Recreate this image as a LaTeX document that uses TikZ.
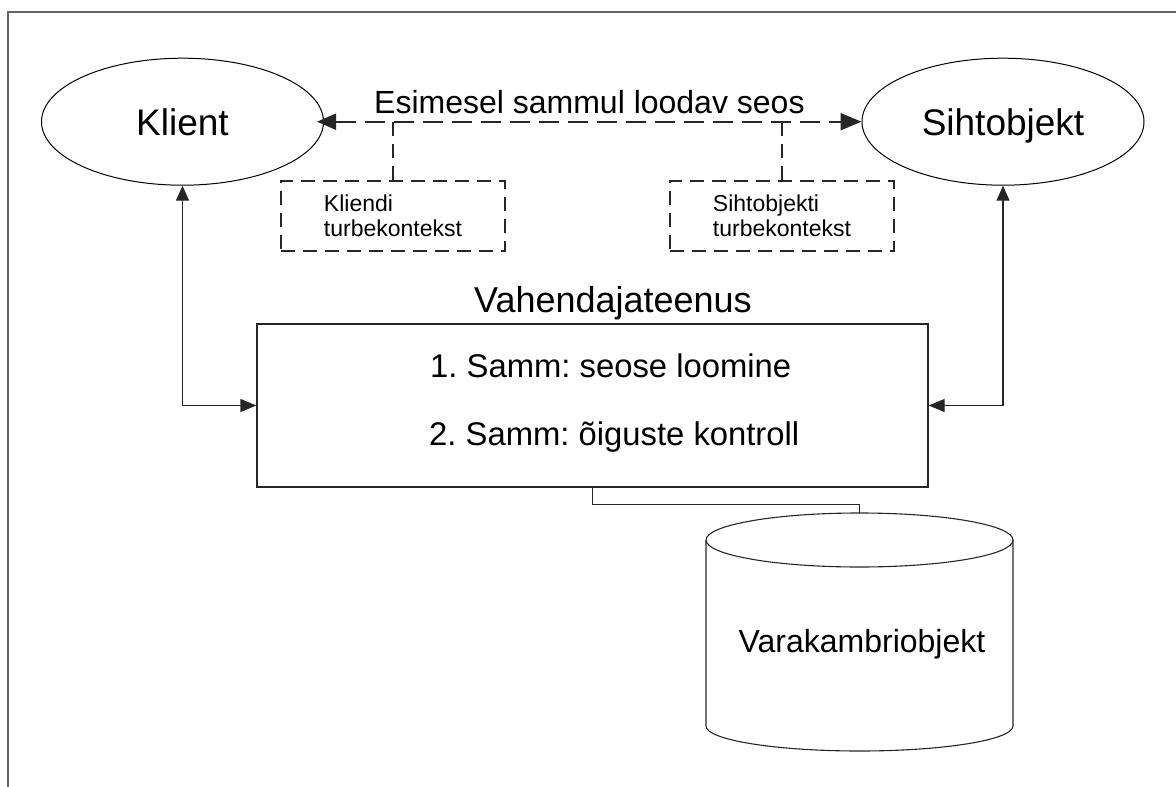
\documentclass[tikz,border=0pt]{standalone}
\usepackage{fontspec}
\setmainfont{Liberation Sans}
\usetikzlibrary{arrows.meta,shapes.geometric}
\frenchspacing

\begin{document}
\begin{tikzpicture}[x=1pt,y=-1pt,
  ent/.style={ellipse, draw, line width=1pt, minimum width=282pt, minimum height=127pt,
    inner sep=0pt, text depth=0pt, font=\fontsize{37}{44}\selectfont},
  ctx/.style={draw, dash pattern=on 14pt off 8pt, line width=1.4pt, draw=black!85,
    minimum width=224pt, minimum height=70pt, inner sep=0pt, align=left,
    font=\fontsize{23}{25}\selectfont},
  ctxline/.style={dash pattern=on 14pt off 8pt, line width=1.3pt, draw=black!85},
  mainbox/.style={draw, line width=1.3pt, draw=black!85, minimum width=671pt,
    minimum height=163pt, inner sep=0pt},
  big/.style={font=\fontsize{32}{38}\selectfont, inner sep=0pt},
  stepfont/.style={font=\fontsize{32.8}{38}\selectfont, inner sep=0pt},
  link/.style={line width=1.3pt, draw=black!85},
  cyl/.style={line width=1.1pt, draw=black!85}
]
\useasboundingbox (0,0) rectangle (1176,787);

% open frame: top and left edges
\draw[line width=2pt, black!60] (1176,12) -- (7.5,12) -- (7.5,787);

% parties
\node[ent] (client) at (182.5,121.7) {Klient};
\node[ent] (target) at (1003,121.7) {Sihtobjekt};

% first-step link between the parties
\draw[line width=2pt, draw=black!85, dash pattern=on 20pt off 9pt, shorten <=-7pt,
  {Triangle[length=19pt, width=16pt]}-{Triangle[length=21pt, width=17pt]}]
  (client.east) -- (target.west);
\node[big, anchor=base west] (linklbl) at (374,113) {Esimesel sammul loodav seos};

% security contexts
\node[ctx] (kctx) at (393,216) {Kliendi\\turbekontekst};
\node[ctx] (sctx) at (782,216) {Sihtobjekti\\turbekontekst};
\draw[ctxline] (kctx.north) -- (kctx.north |- client.east);
\draw[ctxline] (sctx.north) -- (sctx.north |- target.east);

% broker service
\node[mainbox] (broker) at (592.5,405.5) {};
\node[font=\fontsize{36}{43}\selectfont, inner sep=0pt, anchor=base] (brokerlbl) at (613,312) {Vahendajateenus};
\node[stepfont, anchor=base west] (step1) at (430,377) {1. Samm: seose loomine};
\node[stepfont, anchor=base west] (step2) at (429,445) {2. Samm: õiguste kontroll};

\draw[link, {Triangle[length=15pt, width=13pt]}-{Triangle[length=16pt, width=13pt]}]
  (client.south) |- (broker.west);
\draw[link, {Triangle[length=15pt, width=13pt]}-{Triangle[length=16pt, width=13pt]}]
  (target.south) |- (broker.east);

% repository cylinder
\node[minimum width=307pt, minimum height=238pt, inner sep=0pt] (store) at (859.5,632) {};
\draw[cyl] (859.5,540) ellipse [x radius=153.5pt, y radius=27pt];
\draw[cyl] (706,540) -- (706,726) arc[start angle=180, end angle=360, x radius=153.5pt, y radius=25pt] -- (1013,540);
\node[big, anchor=base] (storelbl) at (862,652) {Varakambriobjekt};

\draw[link] (broker.south) -- ++(0,17) -| (store.north);
\end{tikzpicture}
\end{document}
